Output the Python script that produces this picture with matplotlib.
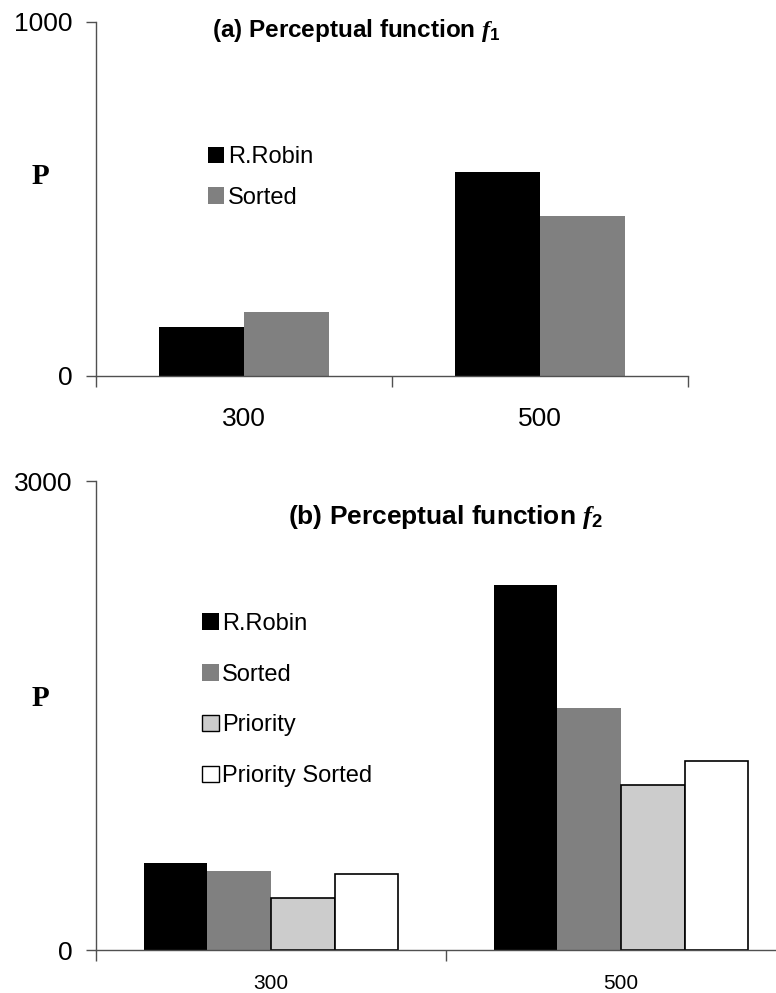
import matplotlib.pyplot as plt
import numpy as np
from matplotlib.patches import Patch

plt.rcParams['font.family'] = ['Liberation Sans', 'DejaVu Sans']
plt.rcParams['mathtext.fontset'] = 'custom'
plt.rcParams['mathtext.it'] = 'Liberation Serif:italic:bold'
plt.rcParams['mathtext.rm'] = 'Liberation Sans:bold'

# problem sizes on the x axis
sizes = ['300', '500']

# (a) perceptual function f1
robin_a = [137, 577]
sorted_a = [181, 452]

# (b) perceptual function f2
robin_b = [556, 2335]
sorted_b = [505, 1548]
priority_b = [333, 1055]
prio_sorted_b = [486, 1209]

axis_col = '#505050'


def style_axis(ax, ymax, label_size, label_pad):
    ax.set_xlim(-0.5, 1.5)
    ax.set_ylim(0, ymax)
    for s in ['top', 'right']:
        ax.spines[s].set_visible(False)
    for s in ['left', 'bottom']:
        ax.spines[s].set_color(axis_col)
        ax.spines[s].set_linewidth(1)
    ax.set_yticks([0, ymax])
    ax.set_yticklabels(['0', str(ymax)])
    ax.tick_params(axis='y', length=7, width=1, color=axis_col, labelsize=19, pad=10)
    ax.set_xticks([0, 1])
    ax.set_xticklabels(sizes)
    ax.tick_params(axis='x', which='major', length=0, labelsize=label_size, pad=label_pad)
    ax.set_xticks([-0.5, 0.5, 1.5], minor=True)
    ax.tick_params(axis='x', which='minor', length=8, width=1, color=axis_col)


fig = plt.figure(figsize=(7.76, 9.93), dpi=100)

# top panel
ax1 = fig.add_axes([0.1237, 0.6214, 0.763, 0.3565])
x = np.arange(len(sizes))
w = 1 / 3.5
ax1.bar(x - w / 2, robin_a, w, color='black', label='R.Robin')
ax1.bar(x + w / 2, sorted_a, w, color='#808080', label='Sorted')
style_axis(ax1, 1000, 19, 22)
fig.text(356 / 776, 1 - 31 / 993, r'(a) Perceptual function $f_{\mathrm{1}}$',
         ha='center', va='center', fontsize=17.5, fontweight='bold')
ax1.legend(handles=[Patch(facecolor='black', label='R.Robin'),
                    Patch(facecolor='#808080', label='Sorted')],
           loc='center left', bbox_to_anchor=(0.268, 1 - 177.5 / 993),
           bbox_transform=fig.transFigure, frameon=False, fontsize=17,
           handlelength=0.7, handleheight=0.7, handletextpad=0.15,
           labelspacing=0.8, borderpad=0, borderaxespad=0)
fig.text(40 / 776, 1 - 177 / 993, 'P', family='Liberation Serif',
         fontweight='bold', fontsize=21, ha='center', va='center')

# bottom panel
ax2 = fig.add_axes([0.1237, 0.0433, 0.902, 0.4723])
w = 1 / 5.5
ax2.bar(x - 1.5 * w, robin_b, w, color='black')
ax2.bar(x - 0.5 * w, sorted_b, w, color='#808080')
ax2.bar(x + 0.5 * w, priority_b, w, color='#cccccc', edgecolor='black', linewidth=1.2)
ax2.bar(x + 1.5 * w, prio_sorted_b, w, color='white', edgecolor='black', linewidth=1.2)
style_axis(ax2, 3000, 15, 17)
fig.text(445 / 776, 1 - 517 / 993, r'(b) Perceptual function $f_{\mathrm{2}}$',
         ha='center', va='center', fontsize=19, fontweight='bold')
ax2.legend(handles=[Patch(facecolor='black', label='R.Robin'),
                    Patch(facecolor='#808080', label='Sorted'),
                    Patch(facecolor='#cccccc', edgecolor='black', label='Priority'),
                    Patch(facecolor='white', edgecolor='black', label='Priority Sorted')],
           loc='center left', bbox_to_anchor=(202 / 776, 1 - 700 / 993),
           bbox_transform=fig.transFigure, frameon=False, fontsize=17,
           handlelength=0.7, handleheight=0.7, handletextpad=0.15,
           labelspacing=1.22, borderpad=0, borderaxespad=0)
fig.text(40 / 776, 1 - 698 / 993, 'P', family='Liberation Serif',
         fontweight='bold', fontsize=21, ha='center', va='center')

fig.savefig('out.png', dpi=100)
